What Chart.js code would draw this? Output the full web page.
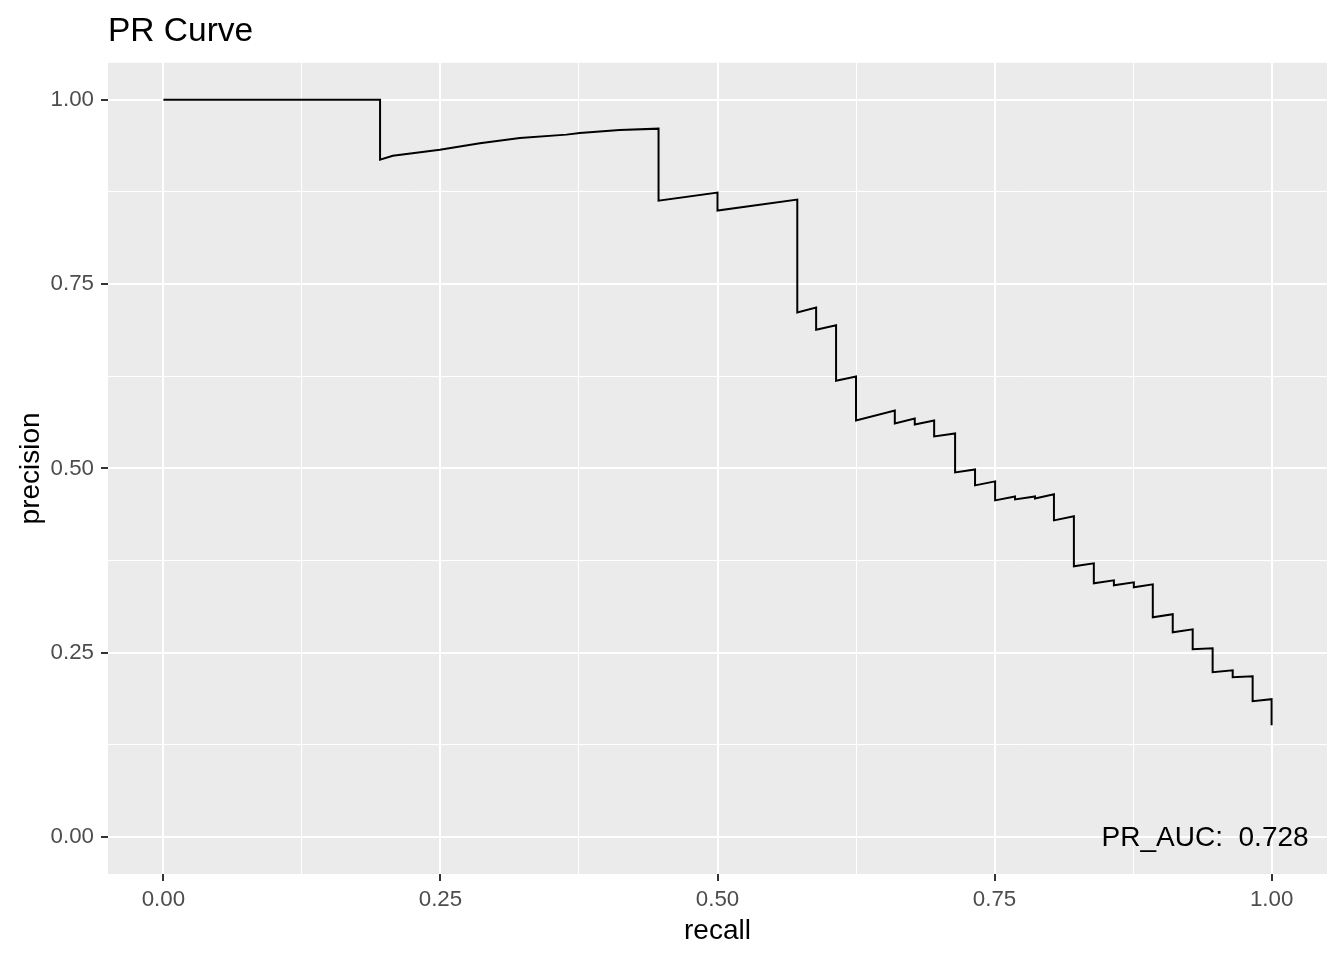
<!DOCTYPE html>
<html>
<head>
<meta charset="utf-8">
<title>PR Curve</title>
<script src="https://cdn.jsdelivr.net/npm/chart.js@4.4.1/dist/chart.umd.min.js"></script>
<style>
	body { margin: 0; background: #ffffff; }
	#prChart { display: block; }
</style>
</head>
<body>
<canvas id="prChart" width="1344" height="960"></canvas>
<script>
// PR curve points (recall, precision)
const recall = [
	0, 0.1955, 0.1955, 0.207, 0.2495, 0.2856, 0.3216, 0.3637, 0.3757, 0.4117, 0.4468,
	0.4468, 0.5, 0.5, 0.572, 0.572, 0.589, 0.589, 0.607, 0.607, 0.625,
	0.625, 0.660, 0.660, 0.678, 0.678, 0.6955, 0.6955, 0.7144, 0.7144, 0.7324,
	0.7324, 0.7505, 0.7505, 0.7685, 0.7685, 0.7865, 0.7865, 0.8036, 0.8036, 0.8216,
	0.8216, 0.8396, 0.8396, 0.8577, 0.8577, 0.8757, 0.8757, 0.8928, 0.8928, 0.9108,
	0.9108, 0.9288, 0.9288, 0.9468, 0.9468, 0.9649, 0.9649, 0.9829, 0.9829, 1.0, 1.0
];
const precision = [
	1.0, 1.0, 0.9187, 0.924, 0.932, 0.9408, 0.948, 0.9526, 0.9547, 0.959, 0.9607,
	0.863, 0.874, 0.8496, 0.8645, 0.7114, 0.718, 0.688, 0.694, 0.619, 0.6247,
	0.565, 0.5786, 0.561, 0.5677, 0.5596, 0.565, 0.5434, 0.5474, 0.4946, 0.4986,
	0.477, 0.4824, 0.4566, 0.462, 0.458, 0.462, 0.4593, 0.4648, 0.4295, 0.435,
	0.3672, 0.3713, 0.3442, 0.3482, 0.3415, 0.3455, 0.3388, 0.3428, 0.2981, 0.3022,
	0.2778, 0.2818, 0.2547, 0.2561, 0.2236, 0.2263, 0.2168, 0.2182, 0.1843, 0.187, 0.1518
];

// axis ticks (ggplot style: labelled majors, unlabelled minors)
const majorTicks = [0, 0.25, 0.5, 0.75, 1];
const minorTicks = [0.125, 0.375, 0.625, 0.875];
const aucLabel = 'PR_AUC:  0.728';

const FONT = '"Liberation Sans", Arial, sans-serif';

document.addEventListener("DOMContentLoaded", () => {
	initPrChart();
});

function isMajor(value) {
	return majorTicks.some(t => Math.abs(t - value) < 1e-9);
}

// grey panel behind the grid, white page around it
const panelBackground = {
	id: 'panelBackground',
	beforeDraw(chart) {
		const { ctx, chartArea } = chart;
		ctx.save();
		ctx.fillStyle = '#ffffff';
		ctx.fillRect(0, 0, chart.width, chart.height);
		ctx.fillStyle = '#EBEBEB';
		ctx.fillRect(chartArea.left, chartArea.top, chartArea.right - chartArea.left, chartArea.bottom - chartArea.top);
		ctx.restore();
	}
};

// AUC annotation in the lower right corner
const aucText = {
	id: 'aucText',
	afterDraw(chart) {
		const { ctx, scales } = chart;
		ctx.save();
		ctx.font = '28px ' + FONT;
		ctx.fillStyle = '#000000';
		ctx.textAlign = 'center';
		ctx.textBaseline = 'middle';
		ctx.fillText(aucLabel, scales.x.getPixelForValue(0.94), scales.y.getPixelForValue(0) + 1);
		ctx.restore();
	}
};

function axisOptions(titleText, titlePadding, size, tickPadding) {
	return {
		type: 'linear',
		min: -0.05,
		max: 1.05,
		afterBuildTicks: scale => {
			scale.ticks = majorTicks.concat(minorTicks).sort((a, b) => a - b).map(v => ({ value: v }));
		},
		afterFit: scale => {
			if (scale.isHorizontal()) scale.height = size;
			else scale.width = size;
		},
		border: { display: false },
		grid: {
			color: '#ffffff',
			lineWidth: c => isMajor(c.tick.value) ? 2 : 1,
			drawTicks: true,
			tickLength: 7,
			tickWidth: 2,
			tickColor: c => isMajor(c.tick.value) ? '#333333' : 'rgba(0,0,0,0)'
		},
		ticks: {
			autoSkip: false,
			maxRotation: 0,
			padding: tickPadding,
			color: '#4D4D4D',
			font: { family: FONT, size: 22.3 },
			callback: value => isMajor(value) ? value.toFixed(2) : ''
		},
		title: {
			display: true,
			text: titleText,
			color: '#000000',
			font: { family: FONT, size: 28 },
			padding: titlePadding
		}
	};
}

function initPrChart() {
	const ctx = document.getElementById("prChart");

	if (!ctx) return;

	const points = recall.map((r, i) => ({ x: r, y: precision[i] }));

	new Chart(ctx, {
		type: 'line',
		data: {
			datasets: [{
				data: points,
				borderColor: '#000000',
				borderWidth: 2,
				pointRadius: 0,
				fill: false,
				tension: 0
			}]
		},
		options: {
			responsive: false,
			animation: false,
			layout: {
				padding: { left: 0, right: 17, top: 0, bottom: 0 }
			},
			plugins: {
				legend: { display: false },
				tooltip: { enabled: false },
				title: {
					display: true,
					text: 'PR Curve',
					align: 'start',
					fullSize: false,
					color: '#000000',
					font: { family: FONT, size: 33.5, weight: 'normal' },
					padding: { top: 12, bottom: 10.6 }
				}
			},
			scales: {
				x: axisOptions('recall', { top: 0, bottom: 12 }, 86, 5),
				y: axisOptions('precision', { top: 14, bottom: 0 }, 108, 7)
			}
		},
		plugins: [panelBackground, aucText]
	});
}
</script>
</body>
</html>
